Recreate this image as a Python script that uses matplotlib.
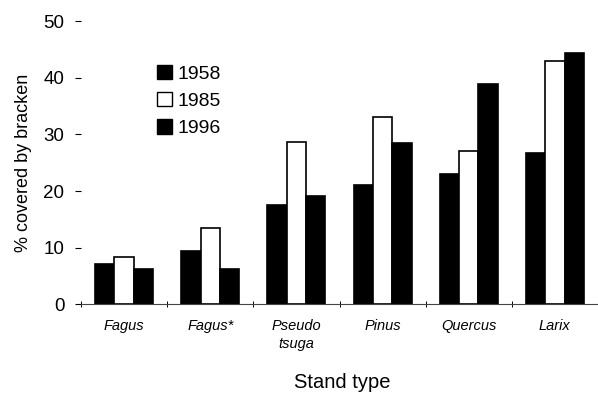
import numpy as np
import matplotlib.pyplot as plt
from matplotlib.patches import Patch

plt.rcParams['font.family'] = ['Liberation Sans', 'DejaVu Sans']

stands = ['Fagus', 'Fagus*', 'Pseudo\ntsuga', 'Pinus', 'Quercus', 'Larix']
years = ['1958', '1985', '1996']
cover_1958 = [7.1, 9.4, 17.6, 21.1, 23.0, 26.7]
cover_1985 = [8.3, 13.5, 28.6, 33.0, 27.0, 42.9]
cover_1996 = [6.3, 6.3, 19.2, 28.4, 39.0, 44.4]

fig = plt.figure(figsize=(5.98, 3.94), dpi=100)
ax = fig.add_axes([0.1355, 0.228, 0.8645, 0.718])

x = np.arange(len(stands))
w = 0.224
styles = [('black', 'black'), ('white', 'black'), ('black', 'black')]
series = [cover_1958, cover_1985, cover_1996]
for i, (vals, (fc, ec)) in enumerate(zip(series, styles)):
    ax.bar(x + (i - 1) * w, vals, w, color=fc, edgecolor=ec, linewidth=1.2)

ax.set_xlim(-0.483, 5.46)
ax.set_ylim(0, 50)
ax.set_yticks([0, 10, 20, 30, 40, 50])
ax.tick_params(axis='y', length=4, width=0.8, labelsize=13.5, pad=8)
ax.set_xticks(x)
ax.set_xticklabels(stands, fontstyle='italic', fontsize=10.5, linespacing=1.35)
ax.tick_params(axis='x', length=0, pad=11)
ax.set_xticks(np.arange(-0.5, 6, 1), minor=True)
ax.tick_params(axis='x', which='minor', direction='inout', length=5, width=0.7)

for s in ['top', 'right', 'left']:
    ax.spines[s].set_visible(False)
ax.spines['bottom'].set_linewidth(0.8)
ax.spines['bottom'].set_color('#444444')

ax.set_ylabel('% covered by bracken', fontsize=13, labelpad=8)
fig.text(0.572, 0.004, 'Stand type', fontsize=14.5, ha='center', va='bottom')

handles = [Patch(facecolor=fc, edgecolor=ec, linewidth=1.0) for fc, ec in styles]
ax.legend(handles, years, loc='upper left', bbox_to_anchor=(0.128, 0.88),
          frameon=False, fontsize=14, handlelength=0.75, handleheight=0.75,
          handletextpad=0.3, labelspacing=0.48, borderpad=0)

fig.savefig('out.png', dpi=100)
